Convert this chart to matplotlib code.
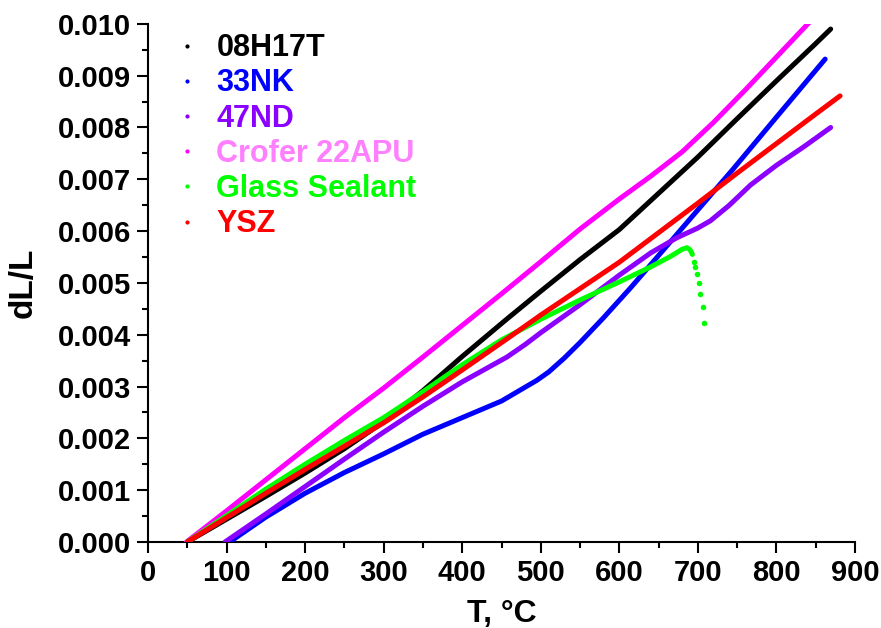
import numpy as np
import matplotlib
matplotlib.use("Agg")
import matplotlib.pyplot as plt
from matplotlib.lines import Line2D
from matplotlib.ticker import MultipleLocator, FormatStrFormatter

plt.rcParams['font.family'] = ['Liberation Sans', 'DejaVu Sans']
plt.rcParams['font.weight'] = 'bold'

# Data (T in °C, dL/L)
steel_T = [50, 100, 150, 200, 250, 300, 350, 400, 455, 500, 550, 600, 650, 700, 750, 800, 850, 869]
steel_y = [0.0, 0.00044, 0.00088, 0.00133, 0.00180, 0.00232, 0.00292, 0.00358, 0.00428, 0.00484, 0.00545, 0.00603, 0.00673,
           0.00743, 0.00817, 0.00890, 0.00962, 0.00990]

nk33_T = [104, 150, 200, 250, 300, 350, 400, 450, 495, 510, 530, 550, 580, 614, 650, 700, 745, 800, 862]
nk33_y = [0.0, 0.00048, 0.00094, 0.00134, 0.00170, 0.00208, 0.00240, 0.00272, 0.00312, 0.00328, 0.00355, 0.00385,
          0.00433, 0.00490, 0.00553, 0.00641, 0.00720, 0.00820, 0.00932]

nd47_T = [98, 150, 200, 250, 300, 350, 400, 457, 480, 500, 550, 600, 640, 673, 700, 716, 740, 767, 800, 835, 869]
nd47_y = [0.0, 0.00054, 0.00107, 0.00160, 0.00212, 0.00262, 0.00309, 0.00357, 0.00381, 0.00404, 0.00458, 0.00515,
          0.00558, 0.00587, 0.00606, 0.00620, 0.00650, 0.00689, 0.00727, 0.00763, 0.00800]

crofer_T = [49, 100, 150, 200, 250, 300, 350, 400, 450, 500, 550, 600, 640, 680, 720, 760, 800, 845]
crofer_y = [0.0, 0.00060, 0.00120, 0.00180, 0.00240, 0.00297, 0.00357, 0.00418, 0.00479, 0.00541, 0.00604, 0.00662,
            0.00706, 0.00753, 0.00810, 0.00872, 0.00936, 0.01008]

glass_T = [50, 100, 150, 200, 250, 300, 350, 400, 450, 500, 550, 600, 640, 665, 680, 686, 690, 693]
glass_y = [0.0, 0.00051, 0.00102, 0.00150, 0.00196, 0.00240, 0.00290, 0.00342, 0.00390, 0.00430, 0.00467, 0.00502,
           0.00531, 0.00551, 0.00565, 0.00568, 0.00564, 0.00555]
glass_drop_T = [694.7, 696.8, 699.0, 701.0, 703.2, 706.1, 707.4]
glass_drop_y = [0.00541, 0.00531, 0.00517, 0.00499, 0.00479, 0.00453, 0.00423]

ysz_T = [50, 100, 150, 200, 250, 300, 350, 400, 455, 500, 550, 600, 650, 700, 750, 800, 850, 881]
ysz_y = [0.0, 0.00047, 0.00094, 0.00140, 0.00185, 0.00230, 0.00280, 0.00332, 0.00390, 0.00438, 0.00489, 0.00540,
         0.00597, 0.00654, 0.00712, 0.00769, 0.00826, 0.00861]

names = ['08H17T', '33NK', '47ND', 'Crofer 22APU', 'Glass Sealant', 'YSZ']
line_colors = ['#000000', '#0000FF', '#8B00FF', '#FF00FF', '#00FF00', '#FF0000']
text_colors = ['#000000', '#0000FF', '#8B00FF', '#FF80FF', '#00FF00', '#FF0000']

fig = plt.figure(figsize=(8.81, 6.28), dpi=100)
ax = fig.add_axes([0.168, 0.137, 0.8025, 0.825])

series = [(steel_T, steel_y), (nk33_T, nk33_y), (nd47_T, nd47_y),
          (crofer_T, crofer_y), (glass_T, glass_y), (ysz_T, ysz_y)]
order = [3, 0, 5, 2, 4, 1]
for i in order:
    t, y = series[i]
    ax.plot(t, y, color=line_colors[i], lw=3.6, solid_capstyle='round', solid_joinstyle='round', zorder=2 + i)
ax.plot(glass_drop_T, glass_drop_y, 'o', color=line_colors[4], ms=4, mew=0, zorder=6)

ax.set_xlim(0, 900)
ax.set_ylim(0, 0.010)
ax.xaxis.set_major_locator(MultipleLocator(100))
ax.xaxis.set_minor_locator(MultipleLocator(50))
ax.yaxis.set_major_locator(MultipleLocator(0.001))
ax.yaxis.set_minor_locator(MultipleLocator(0.0005))
ax.yaxis.set_major_formatter(FormatStrFormatter('%.3f'))
for s in ['top', 'right']:
    ax.spines[s].set_visible(False)
for s in ['left', 'bottom']:
    ax.spines[s].set_linewidth(1.5)
ax.tick_params(which='major', direction='out', length=8, width=1.5, labelsize=21, pad=4)
ax.tick_params(which='minor', direction='out', length=4, width=1.5)
for lab in ax.get_xticklabels() + ax.get_yticklabels():
    lab.set_fontweight('bold')

ax.set_xlabel('T, °C', fontsize=23, fontweight='bold', labelpad=9)
ax.set_ylabel('dL/L', fontsize=24, fontweight='bold', labelpad=14)

handles = [Line2D([], [], ls='none', marker='o', ms=3, mew=0, color=c) for c in line_colors]
leg = ax.legend(handles, names, loc='upper left', bbox_to_anchor=(-0.005, 1.035), frameon=False,
                prop={'size': 22, 'weight': 'bold'}, labelspacing=0.17, handlelength=1.0,
                handletextpad=0.45, labelcolor=text_colors)

fig.savefig('out.png', dpi=100)
